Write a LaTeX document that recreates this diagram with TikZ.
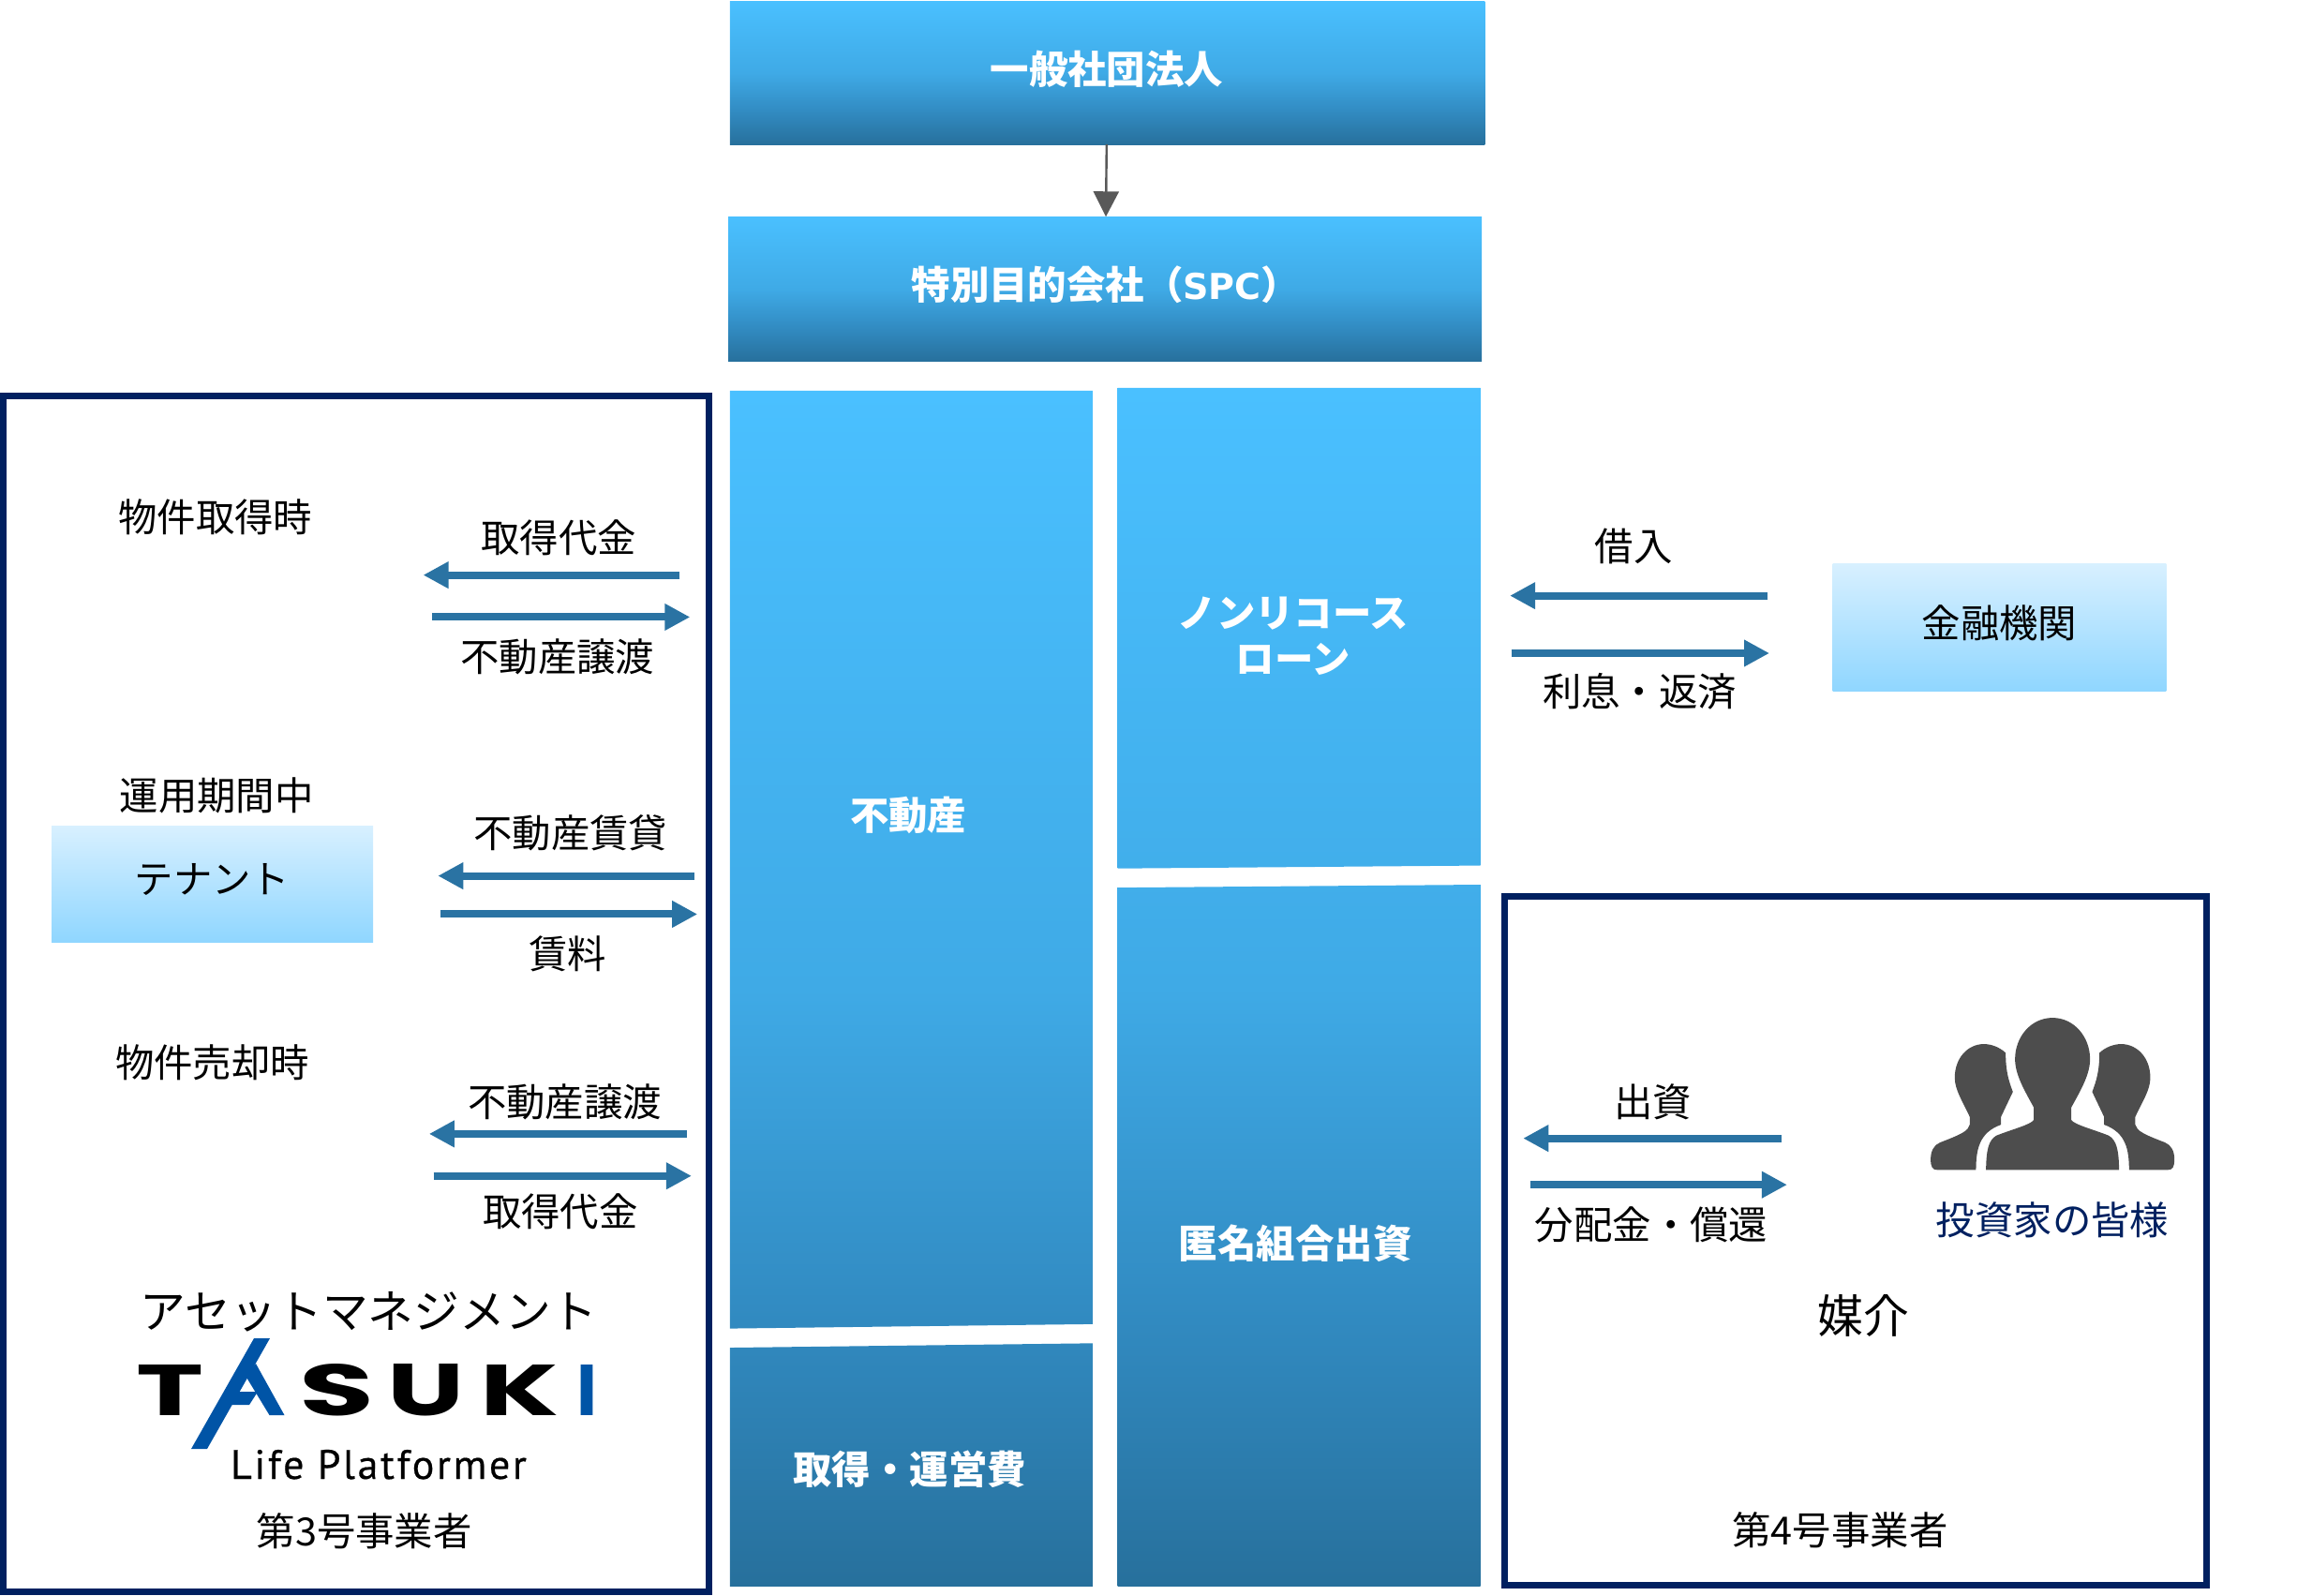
\documentclass[tikz,border=0pt]{standalone}
\usepackage{fontspec}
\usepackage{graphicx}
\usetikzlibrary{arrows.meta,fit}
\setmainfont{Noto Sans CJK JP}
\newfontfamily\logofont{Poppins}[BoldFont={Poppins Bold}]
\newfontfamily\lifefont{PT Sans}[LetterSpace=6,FakeBold=0.4]
\newfontfamily\spcfont{DejaVu Sans}[Scale=0.92]
\definecolor{navyframe}{RGB}{0,32,96}
\definecolor{arrowblue}{RGB}{42,115,163}
\definecolor{grayarrow}{RGB}{89,89,89}
\definecolor{iconfill}{RGB}{77,77,77}
\definecolor{logoblue}{RGB}{0,84,166}
\definecolor{gA}{RGB}{74,192,255}
\definecolor{gB}{RGB}{63,170,230}
\definecolor{gC}{RGB}{50,140,195}
\definecolor{gD}{RGB}{39,112,156}
\definecolor{pA}{RGB}{216,240,255}
\definecolor{pB}{RGB}{143,214,255}
\pgfdeclareverticalshading{darkgrad}{100bp}{color(0bp)=(gD);color(25bp)=(gD);color(37bp)=(gC);color(50bp)=(gB);color(75bp)=(gA);color(100bp)=(gA)}
\pgfdeclareverticalshading{palegrad}{100bp}{color(0bp)=(pB);color(25bp)=(pB);color(75bp)=(pA);color(100bp)=(pA)}
\tikzset{
  darkbox/.style={rectangle,shading=darkgrad,inner sep=0pt,outer sep=0pt},
  palebox/.style={rectangle,shading=palegrad,inner sep=0pt,outer sep=0pt},
  frame/.style={rectangle,draw=navyframe,line width=3.5pt,inner sep=0pt,outer sep=0pt},
  txt/.style={font=\fontsize{20.7pt}{24pt}\selectfont,text=black,inner sep=0pt,yshift=-0.5pt},
  txtbig/.style={font=\fontsize{24.4pt}{28pt}\selectfont,text=black,inner sep=0pt,yshift=-0.5pt},
  wtxt/.style={font=\fontsize{20.7pt}{24.4pt}\selectfont\bfseries,text=white,inner sep=0pt,align=center},
  flow/.style={draw=arrowblue,line width=4pt,-{Triangle[length=13.5pt,width=13.5pt,fill=arrowblue]}},
  linkarrow/.style={draw=grayarrow,line width=1.2pt,-{Triangle[length=13.5pt,width=13.5pt,fill=grayarrow]}},
  logoletter/.style={inner sep=0pt,outer sep=0pt,anchor=base},
  iconshape/.style={fill=iconfill,draw=none},
  logoshape/.style={fill=logoblue,draw=none},
}
\newcommand{\sidefigure}{%
  \fill[iconshape] (410,222) .. controls (360,222) and (317,265) .. (317,330)
    .. controls (317,370) and (345,410) .. (365,455) -- (365,480)
    .. controls (360,500) and (340,510) .. (270,537)
    .. controls (250,545) and (240,565) .. (240,590)
    .. controls (240,615) and (245,625) .. (262,625) -- (385,625)
    .. controls (385,560) and (395,505) .. (465,480) -- (465,455)
    -- (503,375) .. controls (490,340) and (480,310) .. (480,250)
    .. controls (460,232) and (435,222) .. (410,222) -- cycle;}
\begin{document}
\begin{tikzpicture}[x=0.78665pt,y=-0.78665pt]
\useasboundingbox (0,0) rectangle (1568,1081.8);
% top boxes
\node[darkbox,fit={(495,0.7)(1007,98)}] (box1) {};
\node[darkbox,fit={(494,147)(1005,245)}] (box2) {};
\draw[linkarrow] (box1) -- (box2);
\node[wtxt] (t1) at (750.5,47) {一般社団法人};
\node[wtxt,anchor=west] (t2) at (618,193) {特別目的会社（{\spcfont SPC}）};
% left column
\begin{scope}
  \clip (495,265) -- (741,265) -- (741,898) -- (495,901) -- cycle
        (495,914) -- (741,911) -- (741,1076) -- (495,1076) -- cycle;
  \shade[shading=darkgrad] (495,265) rectangle (741,1076);
\end{scope}
% right column
\begin{scope}
  \clip (758,263) -- (1004,263) -- (1004,587) -- (758,589) -- cycle
        (758,602) -- (1004,600) -- (1004,1076) -- (758,1076) -- cycle;
  \shade[shading=darkgrad] (758,263) rectangle (1004,1076);
\end{scope}
\node[wtxt] (t3) at (616,553) {不動産};
\node[wtxt] (t4) at (617,996.5) {取得・運営費};
\node[wtxt] (t5) at (877,431.5) {ノンリコース\\[0.2pt]ローン};
\node[wtxt] (t6) at (878.5,843) {匿名組合出資};
% frames
\node[frame,fit={(2.2,268.7)(480.5,1079.5)}] (leftframe) {};
\node[frame,fit={(1020.5,607.7)(1496.5,1075)}] (rightframe) {};
% pale boxes
\node[palebox,fit={(35,560)(253,639)}] (tenant) {};
\node[palebox,fit={(1243,382)(1469,469)}] (bank) {};
\node[txt] (tenantt) at (144,596) {テナント};
\node[txt] (bankt) at (1356,422) {金融機関};
% flow arrow end points
\coordinate (a1s) at (461,390); \coordinate (a1e) at (287,390);
\coordinate (a2s) at (293,418.5); \coordinate (a2e) at (468,418.5);
\coordinate (a3s) at (471,594); \coordinate (a3e) at (297,594);
\coordinate (a4s) at (299,620); \coordinate (a4e) at (473,620);
\coordinate (a5s) at (466,769); \coordinate (a5e) at (291,769);
\coordinate (a6s) at (294,797.5); \coordinate (a6e) at (469,797.5);
\coordinate (a7s) at (1199,404); \coordinate (a7e) at (1024,404);
\coordinate (a8s) at (1025,443); \coordinate (a8e) at (1200,443);
\coordinate (a9s) at (1208,772); \coordinate (a9e) at (1033,772);
\coordinate (a10s) at (1038,803.5); \coordinate (a10e) at (1212,803.5);
\foreach \i in {1,...,10} {\draw[flow] (a\i s) -- (a\i e);}
% labels
\node[txt] (l1) at (146,350) {物件取得時};
\node[txt] (l2) at (379,364) {取得代金};
\node[txt] (l3) at (378,445) {不動産譲渡};
\node[txt] (l4) at (147,539) {運用期間中};
\node[txt] (l5) at (387,564) {不動産賃貸};
\node[txt] (l6) at (385,646) {賃料};
\node[txt] (l7) at (144,720) {物件売却時};
\node[txt] (l8) at (383,747) {不動産譲渡};
\node[txt] (l9) at (380,821) {取得代金};
\node[txtbig] (l10) at (250,889) {アセットマネジメント};
\node[txt] (l11) at (247,1038) {第3号事業者};
\node[txt] (l12) at (1108,370) {借入};
\node[txt] (l13) at (1112,468) {利息・返済};
\node[txt] (l14) at (1121,747) {出資};
\node[txt] (l15) at (1120,830) {分配金・償還};
\node[txt,text=navyframe] (l16) at (1392,827) {投資家の皆様};
\node[txtbig] (l17) at (1264,892) {媒介};
\node[txt] (l18) at (1248,1037) {第4号事業者};
% logo (coordinates in full-size pixels)
\begin{scope}[x=0.5pt,y=-0.5pt]
  \node[logoletter] (lT) at (182,1510) {\resizebox{36pt}{27pt}{\logofont\bfseries T}};
  \node[logoletter] (lS) at (359.5,1510) {\resizebox{40pt}{27.5pt}{\logofont\bfseries S}};
  \node[logoletter] (lU) at (455,1510) {\resizebox{41pt}{27.5pt}{\logofont\bfseries U}};
  \node[logoletter] (lK) at (554.5,1510) {\resizebox{42pt}{27pt}{\logofont\bfseries K}};
  \node[logoletter] (lI) at (626,1510) {\resizebox{11pt}{27pt}{\logofont\bfseries\color{logoblue}I}};
  \fill[logoshape] (271,1428) -- (288,1428) -- (221,1546) -- (204,1546) -- cycle;
  \fill[logoshape] (273,1455) -- (303.5,1510) -- (287.5,1510) -- (262,1468) -- cycle;
  \fill[logoshape] (246,1485) -- (275,1485) -- (266,1499) -- (239,1499) -- cycle;
  \node[inner sep=0pt,outer sep=0pt,anchor=base,font=\fontsize{22pt}{24pt}\lifefont,text=black] (lLife) at (404,1578) {Life Platformer};
\end{scope}
% investors icon (coordinates: 3x crop of the full-size picture)
\begin{scope}[x=0.16667pt,y=-0.16667pt,shift={(5940,3120)}]
  \fill[iconshape] (630,138) .. controls (560,138) and (510,200) .. (510,270)
    .. controls (510,320) and (540,370) .. (570,425) -- (570,465)
    .. controls (560,480) and (500,495) .. (450,515)
    .. controls (425,530) and (418,560) .. (417,625) -- (843,625)
    .. controls (842,560) and (835,530) .. (810,515)
    .. controls (760,495) and (700,480) .. (690,465) -- (690,425)
    .. controls (720,370) and (750,320) .. (750,270)
    .. controls (750,200) and (700,138) .. (630,138) -- cycle;
  \sidefigure
  \begin{scope}[shift={(1260,0)},xscale=-1]
    \sidefigure
  \end{scope}
\end{scope}
\end{tikzpicture}
\end{document}
